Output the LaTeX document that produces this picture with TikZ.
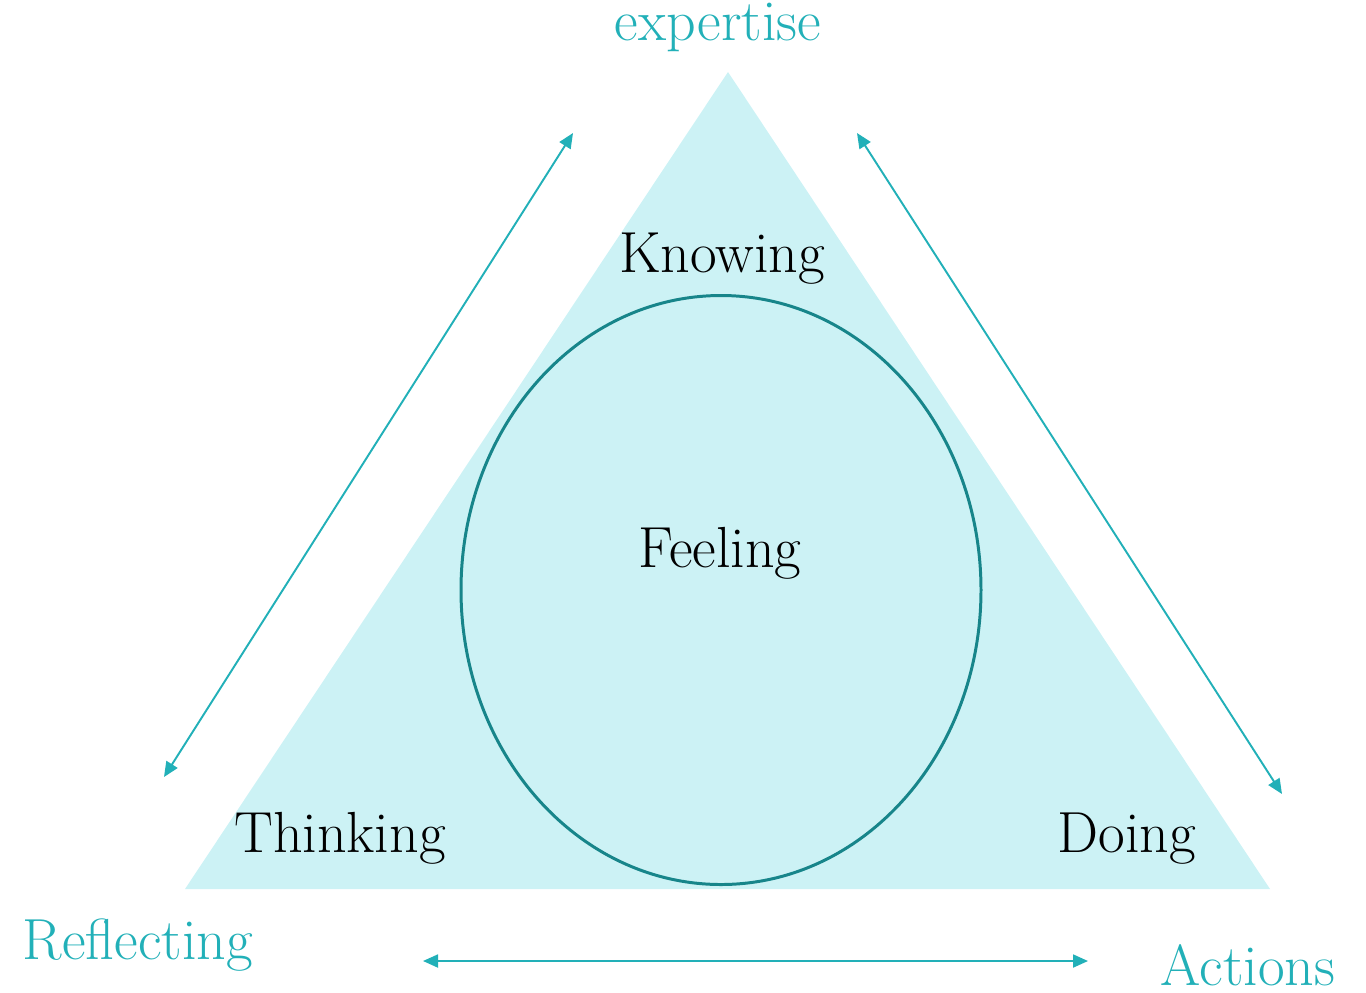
\documentclass[tikz,border=0pt]{standalone}
\usepackage{tikz}
\usetikzlibrary{arrows.meta}

\definecolor{triafill}{HTML}{CCF2F5}
\definecolor{ringline}{HTML}{17858A}
\definecolor{arrowteal}{HTML}{22B0B8}

\begin{document}
\begin{tikzpicture}[x=0.02cm, y=-0.02cm,
  word/.style={anchor=base, inner sep=0pt, font=\fontsize{33}{38}\selectfont},
  outerword/.style={word, text=arrowteal},
  twoway/.style={arrowteal, line width=1.1pt,
    {Triangle[length=0.3cm, width=0.26cm]}-{Triangle[length=0.3cm, width=0.26cm]}}]
\useasboundingbox (0,0) rectangle (1366,992);
\def\ringrx{260};
\def\ringry{294.5};
% corners of the big triangle
\coordinate (top) at (728,72);
\coordinate (left) at (185,889);
\coordinate (right) at (1270,889);
\fill [triafill] (top) -- (right) -- (left) -- cycle;
% the ring in the middle
\coordinate (ringc) at (721,590);
\draw [ringline, fill=triafill, line width=1.7pt] (ringc) ellipse ({\ringrx} and {\ringry});
% arrow ends along the sides
\coordinate (la) at (164,777);
\coordinate (lb) at (573,133);
\coordinate (ra) at (857,133);
\coordinate (rb) at (1282,794);
\coordinate (ba) at (423,961);
\coordinate (bb) at (1088,961);
\draw [twoway] (la) -- (lb);
\draw [twoway] (ra) -- (rb);
\draw [twoway] (ba) -- (bb);
% words
\node (knowing) [word] at (722,272) {Knowing};
\node (feeling) [word] at (720,567) {Feeling};
\node (thinking) [word] at (340,852) {Thinking};
\node (doing) [word] at (1127,852) {Doing};
\node (expertise) [outerword] at (718,40) {expertise};
\node (reflecting) [outerword] at (138,959) {Reflecting};
\node (actions) [outerword] at (1248,985) {Actions};
\end{tikzpicture}
\end{document}
